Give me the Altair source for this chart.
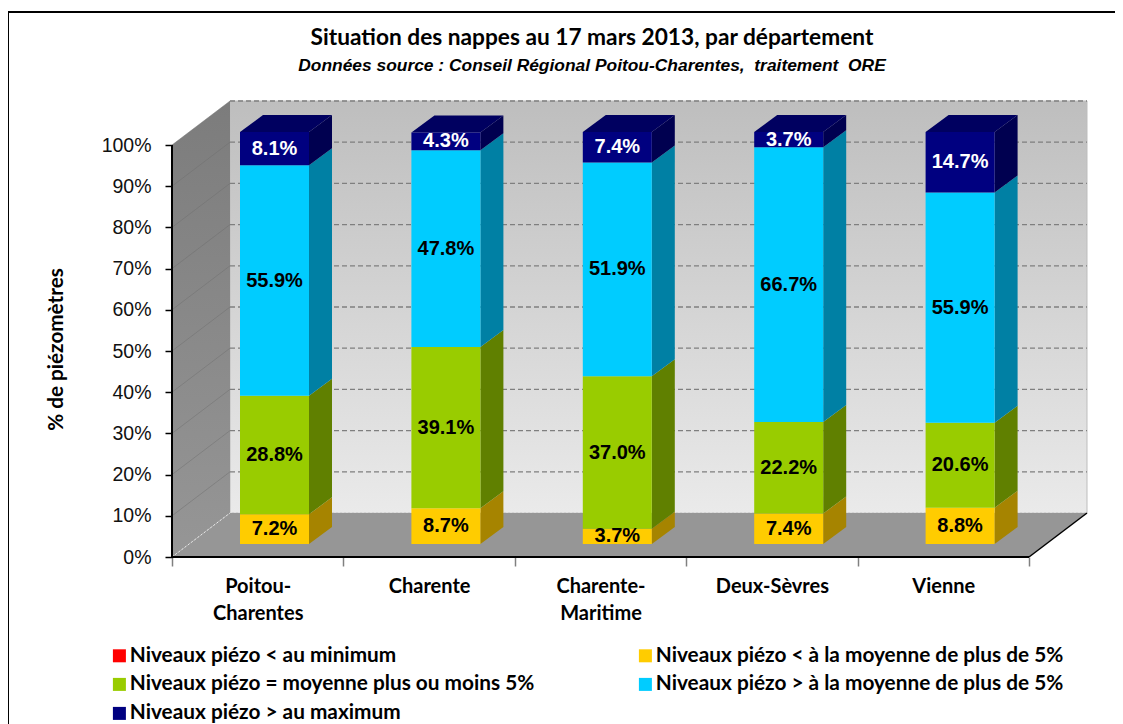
import altair as alt
import pandas as pd

categories = ["Poitou-|Charentes", "Charente", "Charente-|Maritime", "Deux-Sèvres", "Vienne"]
series = [
    "Niveaux piézo < au minimum",
    "Niveaux piézo < à la moyenne de plus de 5%",
    "Niveaux piézo = moyenne plus ou moins 5%",
    "Niveaux piézo > à la moyenne de plus de 5%",
    "Niveaux piézo > au maximum",
]
v_min = [0, 0, 0, 0, 0]
v_low = [7.2, 8.7, 3.7, 7.4, 8.8]
v_mid = [28.8, 39.1, 37.0, 22.2, 20.6]
v_high = [55.9, 47.8, 51.9, 66.7, 55.9]
v_max = [8.1, 4.3, 7.4, 3.7, 14.7]
values = [v_min, v_low, v_mid, v_high, v_max]
front_colors = ["#FF0000", "#FFCC00", "#99CC00", "#00CCFF", "#000080"]
side_colors = ["#A00000", "#A68400", "#608000", "#0080A4", "#000050"]
text_colors = ["black", "black", "black", "black", "white"]
legend_order = [0, 2, 4, 1, 3]
y_ticks = [0, 10, 20, 30, 40, 50, 60, 70, 80, 90, 100]

PX_X, PX_Y = 171.4, 4.12
W, H = 916, 456
X_MAX, Y_MAX = W / PX_X, H / PX_Y
WALL_DX, WALL_DY = 58 / PX_X, Y_MAX - 100
BAR_X0, BAR_W = 68 / PX_X, 69 / PX_X
BAR_DX, BAR_DY = 23 / PX_X, 17 / PX_Y
BAR_Y0 = 13 / PX_Y

front, side, top, labels = [], [], [], []
for c in range(5):
    base = 0.0
    xl = c + BAR_X0
    xr = xl + BAR_W
    for s in range(5):
        v = values[s][c]
        y0, y1 = base + BAR_Y0, base + v + BAR_Y0
        base += v
        front.append(dict(xl=xl, xr=xr, y0=y0, y1=y1, series=series[s]))
        if v > 0:
            key = f"{c}-{s}"
            side.append(dict(x=xr, y0=y0, y1=y1, key=key, fill=side_colors[s]))
            side.append(dict(x=xr + BAR_DX, y0=y0 + BAR_DY, y1=y1 + BAR_DY, key=key, fill=side_colors[s]))
            labels.append(dict(x=(xl + xr) / 2, y=(y0 + y1) / 2, t=f"{v:.1f}%", col=text_colors[s]))
    top.append(dict(y=base + BAR_Y0, x0=xl, x1=xr, key=str(c)))
    top.append(dict(y=base + BAR_Y0 + BAR_DY, x0=xl + BAR_DX, x1=xr + BAR_DX, key=str(c)))

front = pd.DataFrame(front)
side = pd.DataFrame(side)
top = pd.DataFrame(top)
labels = pd.DataFrame(labels)

xs = alt.Scale(domain=[0, X_MAX], nice=False, zero=False)
ys = alt.Scale(domain=[0, Y_MAX], nice=False, zero=False)
X = lambda f, **k: alt.X(f, type="quantitative", scale=xs, axis=None, **k)
Y = lambda f, **k: alt.Y(f, type="quantitative", scale=ys, axis=None, **k)

wall_grad = alt.Gradient(gradient="linear", x1=0, x2=0, y1=0, y2=1,
                         stops=[alt.GradientStop(offset=0, color="#BEBEBE"),
                                alt.GradientStop(offset=1, color="#EAEAEA")])
left_grad = alt.Gradient(gradient="linear", x1=0, x2=0, y1=0, y2=1,
                         stops=[alt.GradientStop(offset=0, color="#7C7C7C"),
                                alt.GradientStop(offset=1, color="#969696")])

wall = alt.Chart(pd.DataFrame([dict(a=WALL_DX, b=5 + WALL_DX, c=WALL_DY, d=100 + WALL_DY)])).mark_rect(
    color=wall_grad, stroke="#BDBDBD", strokeWidth=1).encode(X("a:Q"), x2="b:Q", y=Y("c:Q"), y2="d:Q")

left = alt.Chart(pd.DataFrame([dict(x=0, y0=0, y1=100), dict(x=WALL_DX, y0=WALL_DY, y1=100 + WALL_DY)])).mark_area(
    color=left_grad, interpolate="linear").encode(X("x:Q"), y=Y("y0:Q"), y2="y1:Q")

floor = alt.Chart(pd.DataFrame([dict(y=0, x0=0, x1=5), dict(y=WALL_DY, x0=WALL_DX, x1=5 + WALL_DX)])).mark_area(
    color="#969696", orient="horizontal", interpolate="linear").encode(Y("y:Q"), x=X("x0:Q"), x2="x1:Q")

grid = alt.Chart(pd.DataFrame(dict(v=[t + WALL_DY for t in y_ticks[1:]],
                                   a=[WALL_DX] * 10, b=[5 + WALL_DX] * 10))).mark_rule(
    color="#7F7F7F", strokeDash=[5, 3], strokeWidth=1.3).encode(X("a:Q"), x2="b:Q", y=Y("v:Q"))
grid0 = alt.Chart(pd.DataFrame(dict(v=[WALL_DY], a=[WALL_DX], b=[5 + WALL_DX]))).mark_rule(
    color="#E8E8E8", strokeDash=[2, 2], strokeWidth=1).encode(X("a:Q"), x2="b:Q", y=Y("v:Q"))

slant_rows = []
for t in y_ticks[1:]:
    slant_rows += [dict(x=0, y=t, k=t), dict(x=WALL_DX, y=t + WALL_DY, k=t)]
slants = alt.Chart(pd.DataFrame(slant_rows)).mark_line(color="#6E6E6E", strokeWidth=0.8, opacity=0.6).encode(
    X("x:Q"), Y("y:Q"), detail="k:N")
slant0 = alt.Chart(pd.DataFrame([dict(x=0, y=0), dict(x=WALL_DX, y=WALL_DY)])).mark_line(
    color="#E8E8E8", strokeDash=[2, 2], strokeWidth=1).encode(X("x:Q"), Y("y:Q"))

side_layer = alt.Chart(side).mark_area(interpolate="linear").encode(
    X("x:Q"), y=Y("y0:Q"), y2="y1:Q", detail="key:N", fill=alt.Fill("fill:N", scale=None))
top_layer = alt.Chart(top).mark_area(color="#000060", orient="horizontal", interpolate="linear").encode(
    Y("y:Q"), x=X("x0:Q"), x2="x1:Q", detail="key:N")

bars = alt.Chart(front).mark_rect().encode(
    X("xl:Q"), x2="xr:Q", y=Y("y0:Q"), y2="y1:Q",
    color=alt.Color("series:N",
                    scale=alt.Scale(domain=[series[i] for i in legend_order],
                                    range=[front_colors[i] for i in legend_order]),
                    legend=alt.Legend(title=None, orient="none", legendX=-63, legendY=544, columns=2,
                                      symbolType="square", symbolSize=169, symbolStrokeWidth=0,
                                      labelFont="Lato", labelFontWeight="bold", labelFontSize=20.8,
                                      labelColor="black", labelLimit=500, labelOffset=0,
                                      rowPadding=7, columnPadding=100, symbolOpacity=1)),
)

data_labels = alt.Chart(labels).mark_text(font="Liberation Sans", fontWeight="bold", fontSize=20).encode(
    X("x:Q"), Y("y:Q"), text="t:N", color=alt.Color("col:N", scale=None))

# axes
y_axis = alt.Chart(pd.DataFrame(dict(x=[0, 0], y=[0, 100]))).mark_line(color="black", strokeWidth=2).encode(
    x=X("x:Q"),
    y=alt.Y("y:Q", scale=ys, title="% de piézomètres",
            axis=alt.Axis(values=y_ticks, labelExpr="datum.value + '%'", grid=False, domain=False, orient="left",
                          tickColor="black", tickSize=7, tickWidth=1.5, labelPadding=14,
                          labelFont="Liberation Sans", labelFontSize=19.5, labelColor="#111111",
                          titleFont="Lato", titleFontWeight="bold", titleFontSize=20.7, titleColor="black",
                          titleX=-116, titleY=248, titleAngle=-90, titleAlign="center", titleBaseline="middle")),
)
x_base = alt.Chart(pd.DataFrame(dict(x=[0, 5], y=[0, 0]))).mark_line(color="black", strokeWidth=2).encode(
    x=alt.X("x:Q", scale=xs, axis=alt.Axis(values=[0, 1, 2, 3, 4, 5], labels=False, title=None, grid=False,
                                          orient="bottom", domain=False, tickColor="#808080", tickSize=9,
                                          tickWidth=1.5)),
    y=Y("y:Q"),
)
edge = alt.Chart(pd.DataFrame([dict(x=5, y=0), dict(x=5 + WALL_DX, y=WALL_DY)])).mark_line(
    color="black", strokeWidth=1.5).encode(X("x:Q"), Y("y:Q"))

names_expr = "split(" + str(categories) + "[floor(datum.value)], '|')"
x_names = alt.Chart(pd.DataFrame(dict(x=[0, 5], y=[0, 0]))).mark_point(opacity=0).encode(
    x=alt.X("x:Q", scale=xs, axis=alt.Axis(values=[0.5, 1.5, 2.5, 3.5, 4.5], labelExpr=names_expr, title=None,
                                          orient="bottom", grid=False, domain=False, ticks=False, labelPadding=19,
                                          labelFont="Lato", labelFontWeight="bold", labelFontSize=20,
                                          labelColor="black", labelLineHeight=27, labelOverlap=False,
                                          labelBaseline="top")),
    y=Y("y:Q"),
)

# outer frame
frame_top = alt.Chart(pd.DataFrame(dict(a=[0]))).mark_rule(color="black", strokeWidth=2, clip=False).encode(
    x=alt.value(-164), x2=alt.value(943), y=alt.value(-89))
frame_left = alt.Chart(pd.DataFrame(dict(a=[0]))).mark_rule(color="black", strokeWidth=2, clip=False).encode(
    x=alt.value(-164), y=alt.value(-89), y2=alt.value(623))

chart = alt.layer(
    frame_top, frame_left, wall, grid, grid0, left, slants, floor, slant0,
    side_layer, top_layer, bars, data_labels, y_axis, x_base, x_names, edge,
).resolve_axis(x="independent", y="independent").properties(
    width=W, height=H,
    title=alt.TitleParams(
        text="Situation des nappes au 17 mars 2013, par département",
        subtitle="Données source : Conseil Régional Poitou-Charentes,\u00a0 traitement\u00a0 ORE",
        anchor="middle", dx=-38, offset=-63,
        font="Lato", fontWeight="bold", fontSize=22.7, color="black",
        subtitleFont="Liberation Sans", subtitleFontWeight="bold", subtitleFontStyle="italic",
        subtitleFontSize=17.4, subtitleColor="black", subtitlePadding=7,
    ),
    autosize=alt.AutoSizeParams(type="none"),
    padding={"left": 164, "top": 93, "right": 27, "bottom": 167},
).configure_view(stroke=None)

chart.save("out.html", embed_options={"renderer": "svg", "actions": False})
